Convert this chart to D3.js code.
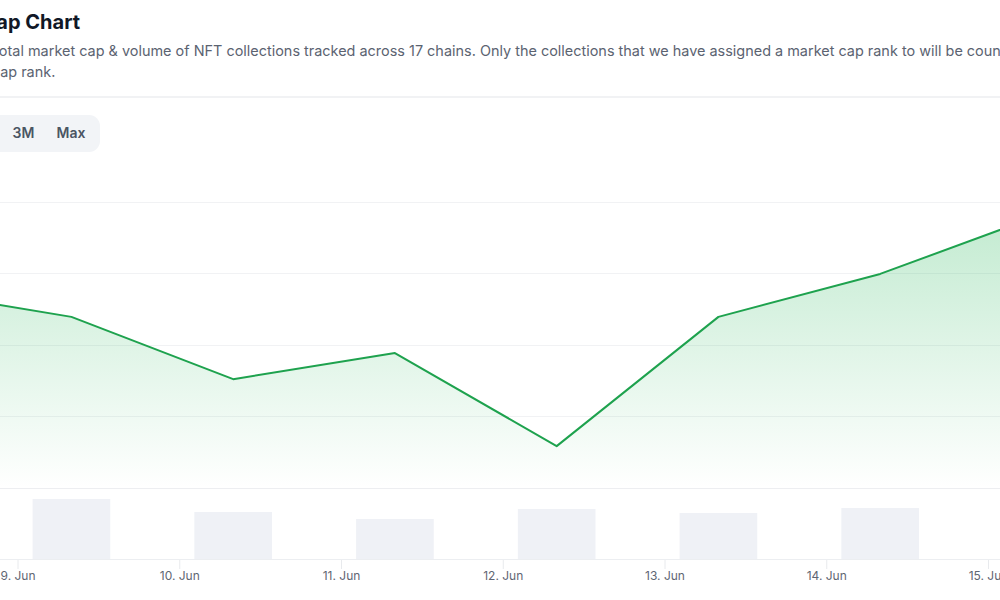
<!DOCTYPE html>
<html>
<head>
<meta charset="utf-8">
<script src="https://cdn.jsdelivr.net/npm/d3@7"></script>
<style>
  html, body { margin: 0; padding: 0; background: #fff; overflow: hidden; }
  svg { display: block; font-family: Inter, "Noto Sans", sans-serif; }
</style>
</head>
<body>
<svg id="chart" width="1000" height="600"></svg>
<script>
// ---- data ----
const dates = ["2024-06-08T08:00:00Z","2024-06-09T08:00:00Z","2024-06-10T08:00:00Z","2024-06-11T08:00:00Z",
               "2024-06-12T08:00:00Z","2024-06-13T08:00:00Z","2024-06-14T08:00:00Z","2024-06-15T08:00:00Z"];
const marketCap = [3.153, 3.078, 2.904, 2.977, 2.717, 3.078, 3.198, 3.364]; // USD billions
const volume = [null, 60, 47, 40, 50, 46, 51, null]; // USD millions
const yTicks = [2.6, 2.8, 3.0, 3.2, 3.4];
const xTickDates = ["2024-06-09","2024-06-10","2024-06-11","2024-06-12","2024-06-13","2024-06-14","2024-06-15"];
const rangeButtons = ["3M", "Max"];
const titleText = "NFT Global Market Cap Chart";
const subtitle1 = "The total market cap & volume of NFT collections tracked across 17 chains. Only the collections that we have assigned a market cap rank to will be counted towards the total.";
const subtitle2 = "market cap rank.";

const svg = d3.select("#chart");
svg.append("rect").attr("width", 1000).attr("height", 600).attr("fill", "#fff");

// helper: place text so that the part after prefix starts at x0
function placeAfterPrefix(sel, full, prefix, x0) {
  const tmp = svg.append("text").attr("font-size", sel.attr("font-size")).attr("font-weight", sel.attr("font-weight")).text(prefix);
  const w = tmp.node().getComputedTextLength();
  tmp.remove();
  sel.attr("x", x0 - w).text(full);
}

// ---- header ----
svg.append("text").attr("x", 80).attr("y", 29).attr("text-anchor", "end")
  .attr("font-size", 20).attr("font-weight", 700).attr("fill", "#111827").text(titleText);

const s1 = svg.append("text").attr("y", 56).attr("font-size", 14.45).attr("font-weight", 400).attr("fill", "#5b6371");
placeAfterPrefix(s1, subtitle1, "The t", -1);
const s2 = svg.append("text").attr("y", 77).attr("font-size", 14.45).attr("font-weight", 400).attr("fill", "#5b6371");
placeAfterPrefix(s2, subtitle2, "market c", 0);

svg.append("line").attr("x1", 0).attr("x2", 1000).attr("y1", 97).attr("y2", 97)
  .attr("stroke", "#eceef1").attr("stroke-width", 1.5);

// buttons
svg.append("rect").attr("x", -30).attr("y", 115).attr("width", 130).attr("height", 37)
  .attr("rx", 11).attr("fill", "#f2f4f7");
const btnX = [23.5, 71];
rangeButtons.forEach((b, i) => {
  svg.append("text").attr("x", btnX[i]).attr("y", 138).attr("text-anchor", "middle")
    .attr("font-size", 14).attr("font-weight", 600).attr("fill", "#4b5563").text(b);
});

// ---- scales ----
const parse = d => new Date(d);
const x = d3.scaleUtc()
  .domain([new Date("2024-06-09T00:00:00Z"), new Date("2024-06-15T00:00:00Z")])
  .range([17.5, 988]);
const y = d3.scaleLinear().domain([2.6, 3.6]).range([488, 130]);
const yVol = d3.scaleLinear().domain([0, 71]).range([559, 488]);

const data = dates.map((d, i) => ({ date: parse(d), cap: marketCap[i], vol: volume[i] }));

// gridlines
svg.append("g").selectAll("line").data(yTicks).join("line")
  .attr("x1", 0).attr("x2", 1000)
  .attr("y1", d => Math.round(y(d)) + 0.5).attr("y2", d => Math.round(y(d)) + 0.5)
  .attr("stroke", (d, i) => i === 0 ? "#edeef1" : "#f1f2f4").attr("stroke-width", 1);

// gradient
const defs = svg.append("defs");
const grad = defs.append("linearGradient").attr("id", "areaGrad")
  .attr("gradientUnits", "userSpaceOnUse").attr("x1", 0).attr("x2", 0).attr("y1", y(3.6)).attr("y2", y(2.6));
grad.append("stop").attr("offset", "0%").attr("stop-color", "#22b555").attr("stop-opacity", 0.36);
grad.append("stop").attr("offset", "100%").attr("stop-color", "#22b555").attr("stop-opacity", 0.0);

const area = d3.area().x(d => x(d.date)).y0(y(2.6)).y1(d => y(d.cap));
const line = d3.line().x(d => x(d.date)).y(d => y(d.cap));

svg.append("path").datum(data).attr("d", area).attr("fill", "url(#areaGrad)");

// volume bars
const dayW = x(new Date("2024-06-10T00:00:00Z")) - x(new Date("2024-06-09T00:00:00Z"));
const bw = dayW * 0.48;
svg.append("g").selectAll("rect").data(data.filter(d => d.vol != null)).join("rect")
  .attr("x", d => x(d.date) - bw / 2).attr("width", bw)
  .attr("y", d => yVol(d.vol)).attr("height", d => yVol(0) - yVol(d.vol))
  .attr("fill", "#eff1f6");

// line
svg.append("path").datum(data).attr("d", line).attr("fill", "none")
  .attr("stroke", "#1ea24e").attr("stroke-width", 2).attr("stroke-linejoin", "round");

// x axis
const xAxis = d3.axisBottom(x)
  .tickValues(xTickDates.map(d => new Date(d + "T00:00:00Z")))
  .tickFormat(d3.utcFormat("%-d. %b"))
  .tickSize(10).tickPadding(2);
const gx = svg.append("g").attr("transform", "translate(0,559)").call(xAxis);
gx.select(".domain").remove();
gx.append("line").attr("x1", 0).attr("x2", 1000).attr("y1", 0.5).attr("y2", 0.5).attr("stroke", "#eceef1");
gx.selectAll(".tick line").attr("stroke", "#e8eaed");
gx.selectAll(".tick text").attr("font-size", 12).attr("fill", "#5f6673").attr("font-family", "Inter, sans-serif");
</script>
</body>
</html>
